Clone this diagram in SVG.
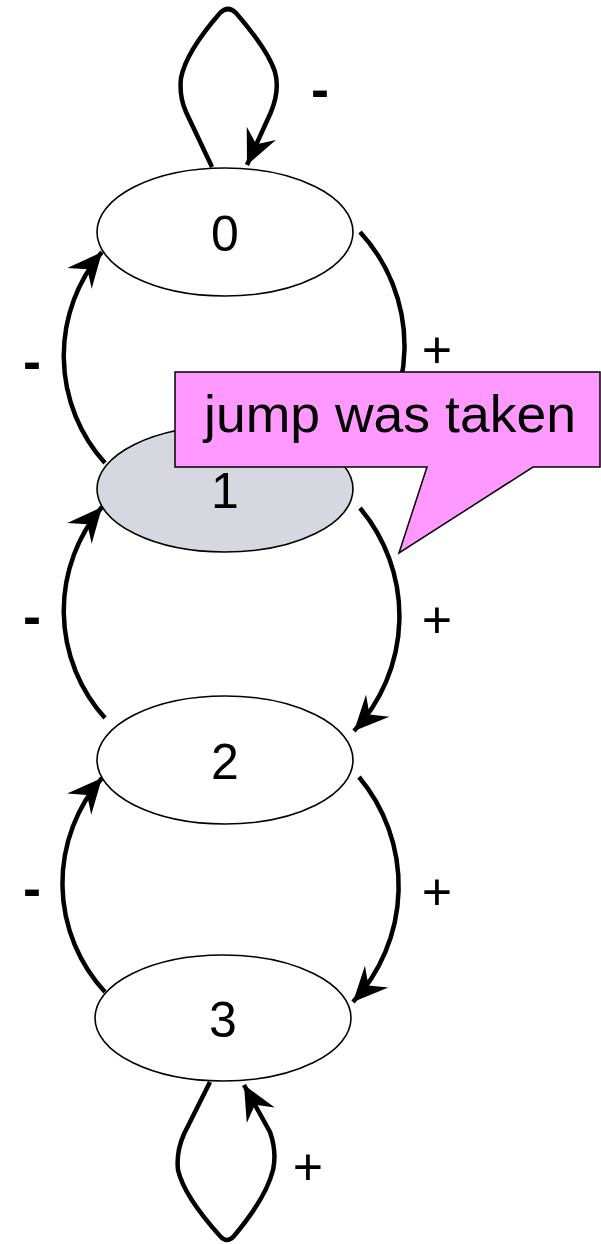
<svg xmlns="http://www.w3.org/2000/svg" width="601" height="1244" viewBox="0 0 601 1244">
<style>
.node{stroke:#000;stroke-width:1.6;fill:#fff}
.edge{fill:none;stroke:#000;stroke-width:4.5;stroke-linejoin:round;stroke-linecap:butt}
.lbl{font-family:"Liberation Sans",Arial,sans-serif;font-size:50px;fill:#000;text-anchor:middle}
.sign{font-family:"Liberation Sans",Arial,sans-serif;font-size:52px;fill:#000;text-anchor:middle}
.minus{font-weight:bold;font-size:54px}
</style>
<defs>
<marker id="arr" markerUnits="userSpaceOnUse" markerWidth="40" markerHeight="40" refX="0" refY="0" viewBox="-28 -14 30 28" orient="auto" overflow="visible">
<path d="M0,0 L-26,-12 L-17,0 L-26,12 Z" fill="#000"/>
</marker>
</defs>
<rect width="601" height="1244" fill="#fff"/>
<g id="connectors">
<path class="edge" d="M212,167 L186,112 Q179,96 181,78 Q186,52 220,13 Q228,5 236,13 Q268,50 275,72 Q280,90 271,112 L247,165" marker-end="url(#arr)"/>
<path class="edge" d="M210,1082 L184,1134 Q176,1152 178,1170 Q184,1196 220,1236 Q227,1244 234,1236 Q266,1198 273,1170 Q277,1152 270,1132 L244,1085" marker-end="url(#arr)"/>
<path class="edge" d="M105,463 A160,160 0 0 1 102,252" marker-end="url(#arr)"/>
<path class="edge" d="M105,718 A160,160 0 0 1 102,507" marker-end="url(#arr)"/>
<path class="edge" d="M105,992 A160,160 0 0 1 102,778" marker-end="url(#arr)"/>
<path class="edge" d="M360,232 A168,168 0 0 1 355,465" marker-end="url(#arr)"/>
<path class="edge" d="M360,508 A168,168 0 0 1 354,731" marker-end="url(#arr)"/>
<path class="edge" d="M359,777 A170,170 0 0 1 353,1002" marker-end="url(#arr)"/>
<text class="sign minus" x="320" y="108">-</text>
<text class="sign minus" x="32" y="380">-</text>
<text class="sign minus" x="32" y="635">-</text>
<text class="sign minus" x="32" y="907">-</text>
<text class="sign" x="437" y="368">+</text>
<text class="sign" x="437" y="638">+</text>
<text class="sign" x="437" y="910">+</text>
<text class="sign" x="308" y="1185">+</text>
</g>
<g id="node0">
<ellipse class="node" cx="225" cy="232" rx="128" ry="64"/>
<text class="lbl" x="225" y="251">0</text>
</g>
<g id="node1">
<ellipse class="node" cx="225" cy="489" rx="128" ry="63" style="fill:#d7d7e0"/>
<text class="lbl" x="225" y="508">1</text>
</g>
<g id="node2">
<ellipse class="node" cx="225" cy="760" rx="128" ry="64"/>
<text class="lbl" x="225" y="779">2</text>
</g>
<g id="node3">
<ellipse class="node" cx="223" cy="1018" rx="128" ry="63"/>
<text class="lbl" x="223" y="1037">3</text>
</g>
<g id="callout">
<path d="M175,372 H600 V467 H533 L399,553 L427,467 H175 Z" fill="#ff99ff" stroke="#000" stroke-width="1.5"/>
<text x="204" y="432" style="font-family:'Liberation Sans',Arial,sans-serif;font-size:52px;fill:#000" textLength="372" lengthAdjust="spacingAndGlyphs">jump was taken</text>
</g>
</svg>
